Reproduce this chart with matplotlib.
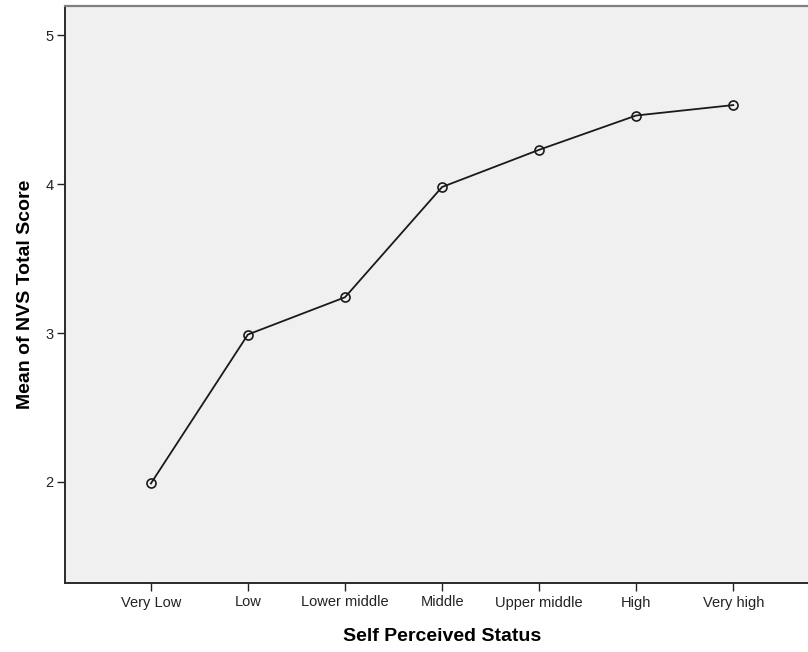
import matplotlib
matplotlib.use("Agg")
import matplotlib.pyplot as plt

categories = ["Very Low", "Low", "Lower middle", "Middle", "Upper middle", "High", "Very high"]
mean_scores = [1.99, 2.99, 3.24, 3.98, 4.23, 4.46, 4.53]
y_ticks = [2, 3, 4, 5]

plt.rcParams["font.family"] = ["Liberation Sans", "DejaVu Sans"]

fig = plt.figure(figsize=(8.08, 6.52), dpi=100)
ax = fig.add_axes([64.5 / 808, 69 / 652, 1 - 64.5 / 808, (583 - 6) / 652])
ax.set_facecolor("#f0f0f0")

x = list(range(len(categories)))
ax.plot(x, mean_scores, color="#1a1a1a", linewidth=1.3,
        marker="o", markersize=6.5, markerfacecolor="none",
        markeredgecolor="#1a1a1a", markeredgewidth=1.2)

ax.set_xlim(-0.89, 6.77)
ax.set_ylim(1.322, 5.195)
ax.set_xticks(x)
ax.set_xticklabels(categories, fontsize=10.5, color="#222222")
ax.set_yticks(y_ticks)
ax.set_yticklabels([str(t) for t in y_ticks], fontsize=10.5, color="#222222")
ax.tick_params(axis="x", length=5.5, width=1.0, color="#222222", pad=3.5)
ax.tick_params(axis="y", length=5.5, width=1.0, color="#222222", pad=2.5)

ax.spines["left"].set_color("#2a2a2a")
ax.spines["left"].set_linewidth(1.4)
ax.spines["bottom"].set_color("#2a2a2a")
ax.spines["bottom"].set_linewidth(1.4)
ax.spines["top"].set_color("#808080")
ax.spines["top"].set_linewidth(1.6)
ax.spines["right"].set_visible(False)

ax.set_xlabel("Self Perceived Status", fontsize=14, fontweight="bold", labelpad=13)
ax.xaxis.label.set_x((442 - 64.5) / (808 - 64.5))
ax.set_ylabel("Mean of NVS Total Score", fontsize=14, fontweight="bold", labelpad=8)

fig.savefig("out.png", dpi=100)
